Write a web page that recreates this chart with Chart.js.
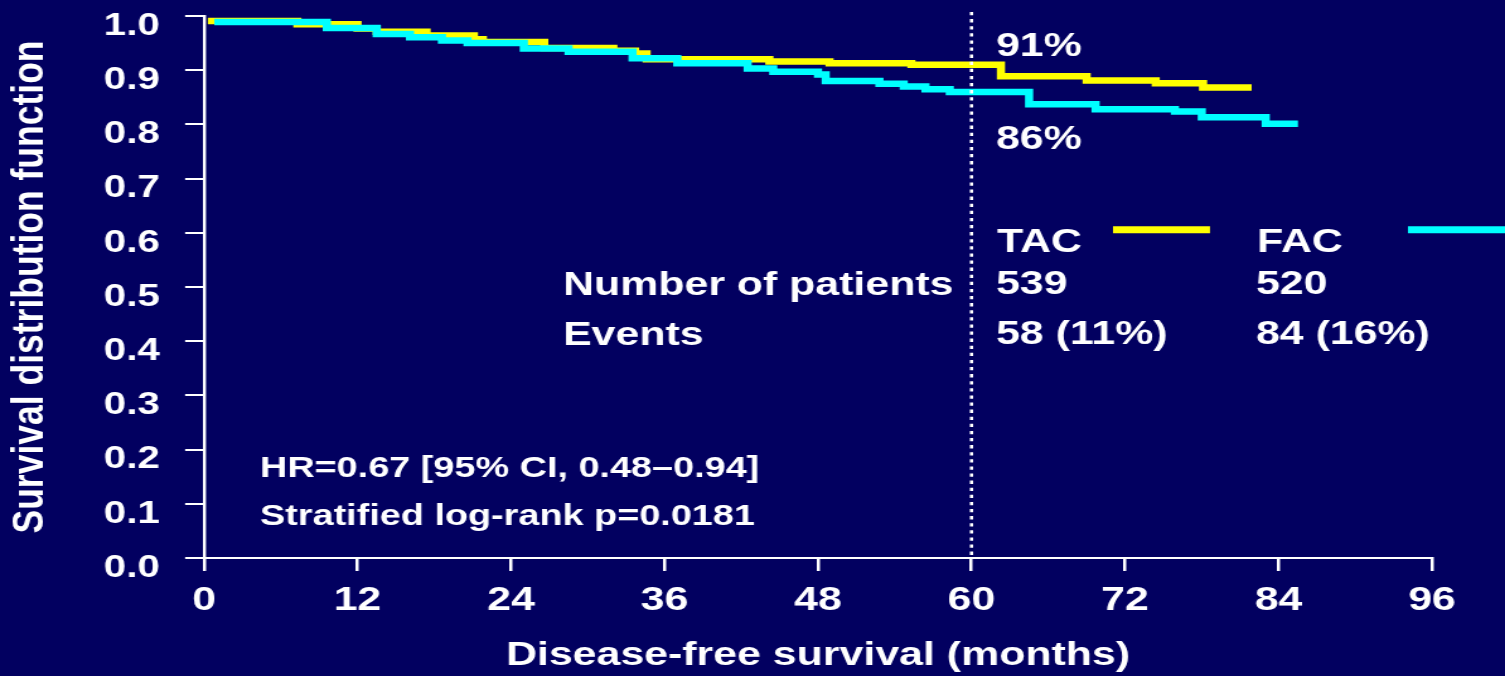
<!DOCTYPE html>
<html>
<head>
<meta charset="utf-8">
<script src="https://cdn.jsdelivr.net/npm/chart.js@4/dist/chart.umd.min.js"></script>
<style>
  html, body { margin: 0; padding: 0; background: #020060; overflow: hidden; }
</style>
</head>
<body>
<!-- The canvas is rendered narrower and stretched horizontally, which gives the wide slide lettering. -->
<canvas id="dfs" width="1194" height="676" style="width:1505px;height:676px;display:block"></canvas>
<script>
// ---- Kaplan-Meier step data (months, survival probability) ----
const tacMonths   = [0.3, 7.3, 12.0, 13.5, 17.4, 21.1, 21.8, 26.6, 32.0, 33.7, 34.6, 44.2, 48.9, 55.3, 62.3, 69.0, 74.4, 78.1, 81.9];
const tacSurvival = [0.991, 0.985, 0.977, 0.971, 0.964, 0.957, 0.952, 0.941, 0.936, 0.931, 0.920, 0.916, 0.913, 0.910, 0.889, 0.881, 0.876, 0.868, 0.868];

const facMonths   = [0.8, 9.6, 13.5, 16.1, 18.6, 20.6, 25.0, 28.5, 33.5, 37.0, 42.5, 44.5, 48.0, 48.6, 52.8, 54.7, 56.4, 58.3, 64.5, 69.7, 75.9, 78.0, 83.0, 85.2];
const facSurvival = [0.989, 0.978, 0.967, 0.961, 0.955, 0.950, 0.940, 0.934, 0.922, 0.913, 0.903, 0.897, 0.892, 0.880, 0.875, 0.870, 0.865, 0.860, 0.837, 0.828, 0.824, 0.813, 0.801, 0.795];

// ---- Axis ticks ----
const xTickValues = [0, 12, 24, 36, 48, 60, 72, 84, 96];
const yTickValues = [0, 0.1, 0.2, 0.3, 0.4, 0.5, 0.6, 0.7, 0.8, 0.9, 1.0];

// ---- Study summary ----
const armNames = ['TAC', 'FAC'];
const armPatients = [539, 520];
const armEvents = [58, 84];
const landmarkMonth = 60;
const hazardText = 'HR=0.67 [95% CI, 0.48\u20130.94]';
const pValueText = 'Stratified log-rank p=0.0181';

// ---- Drawing setup ----
const PAGE_W = 1505, CANVAS_W = 1194;
const SX = CANVAS_W / PAGE_W;               // page x -> canvas x
const FONT = "'Liberation Sans', Arial, Helvetica, sans-serif";
const BG = '#020060';
const WHITE = '#ffffff';
const TAC_COLOR = '#ffff00';
const FAC_COLOR = '#00ffff';

const toPoints = (months, surv) => months.map((m, i) => ({ x: m, y: surv[i] }));
const survivalAt = (months, surv, t) => {
  let v = 1;
  months.forEach((m, i) => { if (m <= t) v = surv[i]; });
  return v;
};
const pct = v => Math.round(v * 100) + '%';

const backdrop = {
  id: 'backdrop',
  beforeDraw(chart) {
    const c = chart.ctx;
    c.save();
    c.fillStyle = BG;
    c.fillRect(0, 0, chart.width, chart.height);
    c.restore();
  }
};

// dotted line at the 5-year landmark, drawn above the curves
const landmarkLine = {
  id: 'landmarkLine',
  afterDatasetsDraw(chart) {
    const { ctx, chartArea, scales: { x } } = chart;
    const px = x.getPixelForValue(landmarkMonth);
    ctx.save();
    ctx.strokeStyle = WHITE;
    ctx.lineWidth = 2.6;
    ctx.setLineDash([3.3, 3.8]);
    ctx.beginPath();
    ctx.moveTo(px, chartArea.top - 4);
    ctx.lineTo(px, chartArea.bottom - 3);
    ctx.stroke();
    ctx.restore();
  }
};

function put(ctx, str, pageX, y, size) {
  ctx.font = `bold ${size}px ${FONT}`;
  ctx.textAlign = 'left';
  ctx.textBaseline = 'alphabetic';
  ctx.fillText(str, pageX * SX, y);
}

function swatch(ctx, color, x0, x1, y) {
  ctx.save();
  ctx.strokeStyle = color;
  ctx.lineWidth = 7;
  ctx.beginPath();
  ctx.moveTo(x0 * SX, y);
  ctx.lineTo(x1 * SX, y);
  ctx.stroke();
  ctx.restore();
}

const annotations = {
  id: 'annotations',
  afterDraw(chart) {
    const ctx = chart.ctx;
    ctx.save();
    ctx.fillStyle = WHITE;

    // 5-year survival estimates
    put(ctx, pct(survivalAt(tacMonths, tacSurvival, landmarkMonth)), 996, 56, 34);
    put(ctx, pct(survivalAt(facMonths, facSurvival, landmarkMonth)), 996, 149, 34);

    // arm key with line samples
    put(ctx, armNames[0], 997, 251.5, 34);
    put(ctx, armNames[1], 1257, 251.5, 34);
    swatch(ctx, TAC_COLOR, 1113, 1210, 229.7);
    swatch(ctx, FAC_COLOR, 1408, 1505, 229.7);
    ctx.fillStyle = WHITE;

    // patients and events table
    put(ctx, 'Number of patients', 563, 295, 34);
    put(ctx, 'Events', 563, 345, 34);
    put(ctx, String(armPatients[0]), 996, 294, 34);
    put(ctx, String(armPatients[1]), 1256, 294, 34);
    put(ctx, `${armEvents[0]} (${pct(armEvents[0] / armPatients[0])})`, 996, 344, 34);
    put(ctx, `${armEvents[1]} (${pct(armEvents[1] / armPatients[1])})`, 1256, 344, 34);

    // hazard ratio and test
    put(ctx, hazardText, 260, 477, 30);
    put(ctx, pValueText, 260, 525, 30);
    ctx.restore();
  }
};

const tickFont = size => ({ family: FONT, size, weight: 'bold' });

new Chart(document.getElementById('dfs'), {
  type: 'line',
  data: {
    datasets: [
      {
        label: armNames[0],
        data: toPoints(tacMonths, tacSurvival),
        borderColor: TAC_COLOR,
        borderWidth: 6.5,
        stepped: true,
        pointRadius: 0,
        fill: false,
        borderJoinStyle: 'miter',
        borderCapStyle: 'butt',
        order: 1
      },
      {
        label: armNames[1],
        data: toPoints(facMonths, facSurvival),
        borderColor: FAC_COLOR,
        borderWidth: 6.5,
        stepped: true,
        pointRadius: 0,
        fill: false,
        borderJoinStyle: 'miter',
        borderCapStyle: 'butt',
        order: 0
      }
    ]
  },
  options: {
    responsive: false,
    animation: false,
    events: [],
    layout: { padding: { left: 2.5, top: 16, right: CANVAS_W - 1432 * SX, bottom: 0 } },
    plugins: { legend: { display: false }, tooltip: { enabled: false } },
    scales: {
      x: {
        type: 'linear',
        min: 0,
        max: 96,
        afterBuildTicks: s => { s.ticks = xTickValues.map(value => ({ value })); },
        afterFit: s => { s.height = 118; s.paddingLeft = 0; s.paddingRight = 0; },
        ticks: { color: WHITE, font: tickFont(34), padding: 9.5, maxRotation: 0, autoSkip: false },
        grid: { drawOnChartArea: false, drawTicks: true, tickLength: 13, color: WHITE, lineWidth: 2.5 },
        border: { display: true, color: WHITE, width: 2 },
        title: {
          display: true,
          text: 'Disease-free survival (months)',
          color: WHITE,
          font: tickFont(34),
          padding: 0
        }
      },
      y: {
        type: 'linear',
        min: 0,
        max: 1,
        afterBuildTicks: s => { s.ticks = yTickValues.map(value => ({ value })); },
        afterFit: s => { s.width = 204 * SX - 2.5; s.paddingTop = 0; s.paddingBottom = 0; },
        ticks: {
          color: WHITE,
          font: tickFont(32),
          padding: 20,
          labelOffset: 10,
          callback: v => Number(v).toFixed(1)
        },
        grid: { drawOnChartArea: false, drawTicks: true, tickLength: 15, color: WHITE, lineWidth: 2 },
        border: { display: true, color: WHITE, width: 2.4 },
        title: {
          display: true,
          text: 'Survival distribution function',
          color: WHITE,
          font: tickFont(35.5),
          padding: 0
        }
      }
    }
  },
  plugins: [backdrop, landmarkLine, annotations]
});
</script>
</body>
</html>
